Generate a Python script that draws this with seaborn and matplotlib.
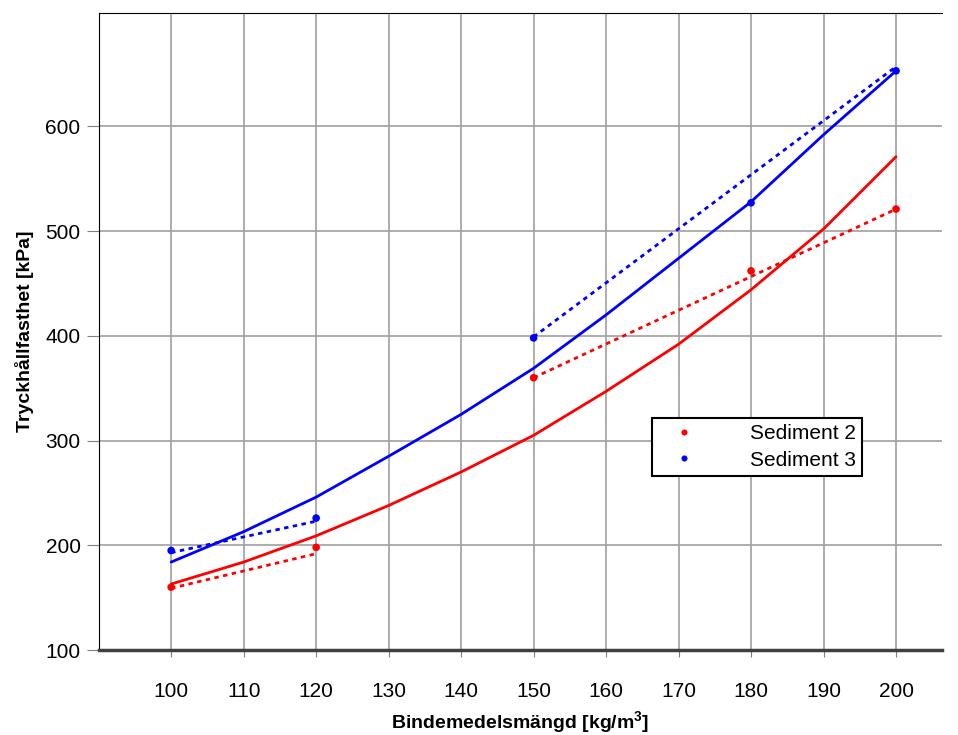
import matplotlib
matplotlib.use("Agg")
import matplotlib.pyplot as plt
import seaborn as sns
import pandas as pd

# measured points
dose = [100, 120, 150, 180, 200]
sed2 = [160, 198, 360, 462, 521]
sed3 = [195, 226, 398, 527, 653]

curve_x = [100, 110, 120, 130, 140, 150, 160, 170, 180, 190, 200]
curve2 = [163, 184, 209, 238, 270, 305, 347, 392, 444, 502, 571]
curve3 = [184, 213, 246, 285, 325, 369, 420, 474, 528, 592, 653]

# dotted trend segments: (x pair, y pair)
trend_x = [[100, 120], [150, 200]]
trend2 = [[159, 192], [360, 521]]
trend3 = [[193, 223], [399, 657]]

names = ["Sediment 2", "Sediment 3"]
colors = {"Sediment 2": "#ff0000", "Sediment 3": "#0000ff"}

sns.set_style("white")
plt.rcParams['font.family'] = ['Liberation Sans', 'DejaVu Sans']
plt.rcParams['mathtext.default'] = 'regular'
plt.rcParams['text.color'] = 'black'
plt.rcParams['axes.labelcolor'] = 'black'

pts = pd.DataFrame({
    "x": dose * 2,
    "y": sed2 + sed3,
    "serie": [names[0]] * len(dose) + [names[1]] * len(dose),
})
curves = pd.DataFrame({
    "x": curve_x * 2,
    "y": curve2 + curve3,
    "serie": [names[0]] * len(curve_x) + [names[1]] * len(curve_x),
})
rows = []
for name, tr in zip(names, [trend2, trend3]):
    for seg, (xs, ys) in enumerate(zip(trend_x, tr)):
        for xv, yv in zip(xs, ys):
            rows.append({"x": xv, "y": yv, "serie": name, "seg": seg})
trends = pd.DataFrame(rows)

fig = plt.figure(figsize=(9.58, 7.35), dpi=100)
ax = fig.add_axes([0.103, 0.1156, 0.88, 0.8664])

sns.lineplot(data=curves, x="x", y="y", hue="serie", palette=colors,
             linewidth=2, legend=False, ax=ax, zorder=3)
for name in names:
    for seg in range(len(trend_x)):
        d = trends[(trends.serie == name) & (trends.seg == seg)]
        sns.lineplot(data=d, x="x", y="y", color=colors[name], linewidth=2,
                     linestyle=(0, (1.6, 1.6)), legend=False, ax=ax, zorder=3)
sns.scatterplot(data=pts, x="x", y="y", hue="serie", palette=colors,
                s=30, edgecolor="none", ax=ax, zorder=4)

ax.set_xlim(90, 206.3)
ax.set_ylim(100, 708)
ax.set_xticks(range(100, 201, 10))
ax.set_yticks(range(100, 601, 100))
ax.grid(True, color="#a0a0a0", linewidth=1.2)
ax.set_axisbelow(True)

ax.spines["right"].set_visible(False)
ax.spines["top"].set_color("black")
ax.spines["left"].set_color("black")
ax.spines["bottom"].set_color("#404040")
ax.spines["bottom"].set_linewidth(2.5)

ax.tick_params(axis="x", direction="out", length=5, color="#808080",
               labelsize=15, pad=18, bottom=True, labelcolor="black")
ax.tick_params(axis="y", direction="out", length=9, color="#808080",
               labelsize=15, pad=4, left=True, labelcolor="black")

ax.set_xlabel("Bindemedelsmängd [kg/m$^{3}$]", fontsize=14, fontweight="bold",
              labelpad=6)
ax.set_ylabel("Tryckhållfasthet [kPa]", fontsize=14, fontweight="bold",
              labelpad=8)

leg = ax.legend(loc="upper left", bbox_to_anchor=(0.656, 0.364),
                frameon=True, fancybox=False, edgecolor="black",
                fontsize=15, handlelength=2.5, handletextpad=1.9,
                borderpad=0.3, labelspacing=0.35, borderaxespad=0,
                markerscale=0.8)
leg.get_frame().set_linewidth(1.5)
leg.get_frame().set_alpha(1)

fig.savefig("out.png", dpi=100)
